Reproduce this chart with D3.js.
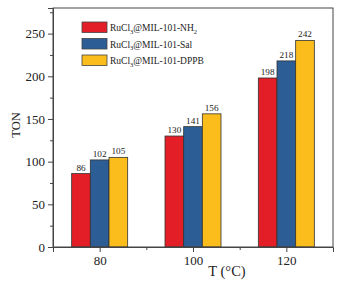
<!DOCTYPE html>
<html>
<head>
<meta charset="utf-8">
<script src="https://cdn.jsdelivr.net/npm/d3@7"></script>
<style>
  body { margin: 0; background: #fff; }
  text { font-family: "Liberation Serif", "Times New Roman", serif; }
</style>
</head>
<body>
<script>
// chart data
const temps = [80, 100, 120];
const seriesNames = ["NH2", "Sal", "DPPB"];
const nh2 = [86, 130, 198];
const sal = [102, 141, 218];
const dppb = [105, 156, 242];
const yTicks = [0, 50, 100, 150, 200, 250];

const width = 354, height = 281;
const margin = { top: 8, right: 21, bottom: 34, left: 53 };
const colors = ["#e41e26", "#2c5d95", "#fbbd1b"];

const svg = d3.select("body").append("svg")
  .attr("width", width)
  .attr("height", height);

const x = d3.scaleLinear().domain([70, 130]).range([margin.left, width - margin.right]);
const y = d3.scaleLinear().domain([0, 280]).range([height - margin.bottom, margin.top]);

const barW = 4; // in x units
const series = [nh2, sal, dppb];

// bars
series.forEach((vals, s) => {
  const g = svg.append("g");
  g.selectAll("rect")
    .data(temps.map((t, i) => ({ t, v: vals[i] })))
    .join("rect")
      .attr("x", d => x(d.t + (s - 1.5) * barW))
      .attr("y", d => y(d.v))
      .attr("width", x(barW) - x(0))
      .attr("height", d => y(0) - y(d.v))
      .attr("fill", colors[s])
      .attr("stroke", "#333")
      .attr("stroke-width", 0.8);
  g.selectAll("text")
    .data(temps.map((t, i) => ({ t, v: vals[i] })))
    .join("text")
      .attr("x", d => x(d.t + (s - 1) * barW))
      .attr("y", d => y(d.v) - 3)
      .attr("text-anchor", "middle")
      .attr("font-size", 9.2)
      .attr("fill", "#222")
      .text(d => d.v);
});

// frame
svg.append("rect")
  .attr("x", margin.left).attr("y", margin.top)
  .attr("width", width - margin.right - margin.left)
  .attr("height", height - margin.bottom - margin.top)
  .attr("fill", "none").attr("stroke", "#444").attr("stroke-width", 1);

// axes
svg.append("g")
  .attr("transform", `translate(${margin.left},0)`)
  .call(d3.axisLeft(y).tickValues(yTicks).tickSize(5).tickPadding(3));
svg.append("g")
  .attr("transform", `translate(${margin.left},0)`)
  .call(d3.axisLeft(y).tickValues(d3.range(25, 280, 50)).tickSize(3).tickFormat(""))
  .call(g => g.select(".domain").remove());

svg.append("g")
  .attr("transform", `translate(0,${height - margin.bottom})`)
  .call(d3.axisBottom(x).tickValues(temps).tickSize(5).tickPadding(4));
svg.append("g")
  .attr("transform", `translate(0,${height - margin.bottom})`)
  .call(d3.axisBottom(x).tickValues([90, 110]).tickSize(3).tickFormat(""))
  .call(g => g.select(".domain").remove());

svg.selectAll(".domain").attr("stroke", "#444");
svg.selectAll(".tick line").attr("stroke", "#444");
svg.selectAll(".tick text")
  .attr("font-family", "Liberation Serif, serif")
  .attr("font-size", 13)
  .attr("fill", "#222");

// axis titles
svg.append("text")
  .attr("transform", "translate(19.5,125) rotate(-90)")
  .attr("text-anchor", "middle")
  .attr("font-size", 12.5)
  .attr("fill", "#222")
  .text("TON");

svg.append("text")
  .attr("x", 227)
  .attr("y", 276)
  .attr("text-anchor", "middle")
  .attr("font-size", 14.5)
  .attr("fill", "#222")
  .text("T (°C)");

// legend
const legend = svg.append("g").attr("transform", "translate(82,22)");
seriesNames.forEach((name, i) => {
  const row = legend.append("g").attr("transform", `translate(0,${i * 16.5})`);
  row.append("rect")
    .attr("width", 25).attr("height", 10.5)
    .attr("fill", colors[i])
    .attr("stroke", "#444").attr("stroke-width", 0.8);
  const t = row.append("text")
    .attr("x", 28).attr("y", 9)
    .attr("font-size", 9.5)
    .attr("fill", "#222");
  t.append("tspan").text("RuCl");
  t.append("tspan").attr("font-size", 6.5).attr("dy", 2.5).text("3");
  if (name === "NH2") {
    t.append("tspan").attr("dy", -2.5).text("@MIL-101-NH");
    t.append("tspan").attr("font-size", 6.5).attr("dy", 2.5).text("2");
  } else {
    t.append("tspan").attr("dy", -2.5).text("@MIL-101-" + name);
  }
});
</script>
</body>
</html>
